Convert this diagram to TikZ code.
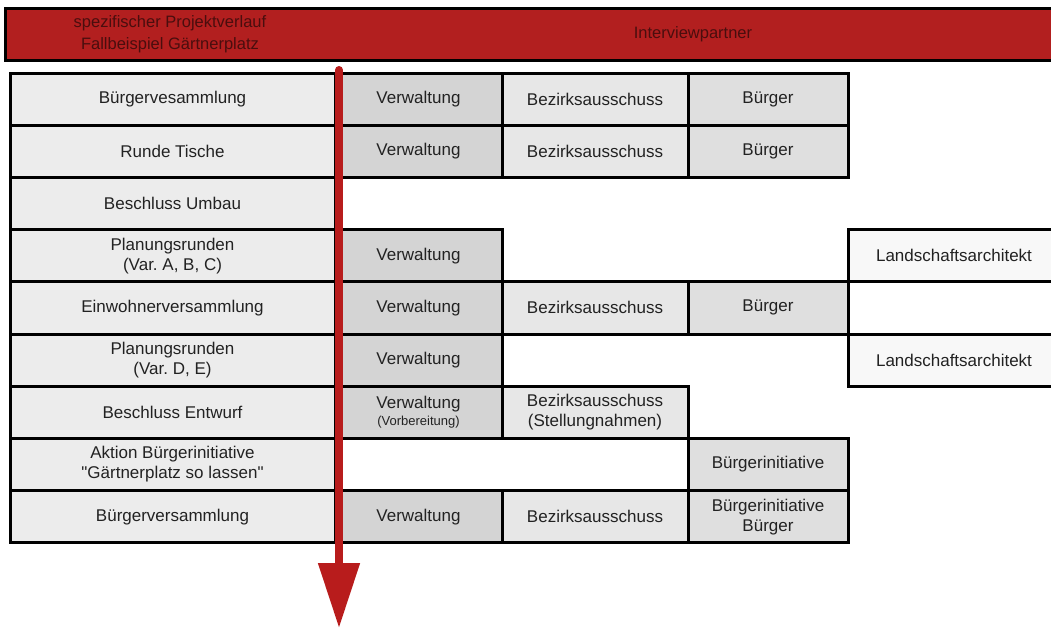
\documentclass[tikz,border=0pt]{standalone}
\usepackage{fontspec}
\setmainfont{Liberation Sans}
\newfontfamily\rawquote{Liberation Sans}
\newcommand{\dq}{{\rawquote"}}
\frenchspacing
\usetikzlibrary{arrows.meta}

\definecolor{headred}{HTML}{B21F1F}
\definecolor{headtext}{HTML}{4A0E0E}
\definecolor{arrowred}{HTML}{B81C1C}
\definecolor{celltext}{HTML}{222222}
\definecolor{stepgray}{HTML}{ECECEC}
\definecolor{verwgray}{HTML}{D4D4D4}
\definecolor{bagray}{HTML}{E7E7E7}
\definecolor{buergray}{HTML}{DFDFDF}
\definecolor{lagray}{HTML}{F8F8F8}

\begin{document}
\begin{tikzpicture}[x=1pt, y=-1pt,
		cell/.style={draw=black, line width=3pt, minimum height=52.2pt, inner sep=0pt,
			align=center, text=celltext, font=\fontsize{17}{20}\selectfont},
		headtxt/.style={align=center, text=headtext, font=\fontsize{16.5}{22}\selectfont},
		timeline/.style={draw=arrowred, line width=8pt, line cap=round,
			-{Triangle[width=40pt, length=65pt, fill=arrowred]}}]
		\clip (0,0) rectangle (1051,630);
		\fill[white] (0,0) rectangle (1051,630);

		% Kopfzeile
		\filldraw[fill=headred, draw=black, line width=3pt] (5,8) rectangle (1070,60);
		\node[headtxt] (kopf) at (170,34) {spezifischer Projektverlauf\\Fallbeispiel Gärtnerplatz};
		\node[headtxt] (partner) at (693,34) {Interviewpartner};

		% Projektschritte
		\foreach \i/\txt in {1/Bürgervesammlung, 2/Runde Tische, 3/Beschluss Umbau,
				4/{Planungsrunden\\(Var. A, B, C)}, 5/Einwohnerversammlung,
				6/{Planungsrunden\\(Var. D, E)}, 7/Beschluss Entwurf,
				8/{Aktion Bürgerinitiative\\\dq Gärtnerplatz so lassen\dq}, 9/Bürgerversammlung} {
			\node[cell, fill=stepgray, minimum width=325pt] (step\i) at (172.5, {73+(\i-0.5)*52.2}) {\txt};
		}

		% Verwaltung
		\foreach \i in {1,2,4,5,6,9} {
			\node[cell, fill=verwgray, minimum width=167pt] (verw\i) at (418.5, {73+(\i-0.5)*52.2}) {Verwaltung};
		}
		\node[cell, fill=verwgray, minimum width=167pt] (verw7) at (418.5, {73+6.5*52.2})
			{Verwaltung\\[-3pt]{\fontsize{13}{15}\selectfont(Vorbereitung)}};

		% Bezirksausschuss
		\foreach \i in {1,2,5,9} {
			\node[cell, fill=bagray, minimum width=186pt] (ba\i) at (595, {73+(\i-0.5)*52.2}) {Bezirksausschuss};
		}
		\node[cell, fill=bagray, minimum width=186pt] (ba7) at (595, {73+6.5*52.2})
			{Bezirksausschuss\\(Stellungnahmen)};

		% Buerger
		\foreach \i in {1,2,5} {
			\node[cell, fill=buergray, minimum width=160pt] (buerg\i) at (768, {73+(\i-0.5)*52.2}) {Bürger};
		}
		\node[cell, fill=buergray, minimum width=160pt] (buerg8) at (768, {73+7.5*52.2}) {Bürgerinitiative};
		\node[cell, fill=buergray, minimum width=160pt] (buerg9) at (768, {73+8.5*52.2}) {Bürgerinitiative\\Bürger};

		% Landschaftsarchitekt
		\foreach \i in {4,6} {
			\node[cell, fill=lagray, minimum width=212pt] (la\i) at (954, {73+(\i-0.5)*52.2}) {Landschaftsarchitekt};
		}

		% Zeitachse
		\coordinate (zeit0) at (339,70);
		\coordinate (zeit1) at (339,628);
		\draw[timeline] (zeit0) -- (zeit1);
	\end{tikzpicture}
\end{document}
